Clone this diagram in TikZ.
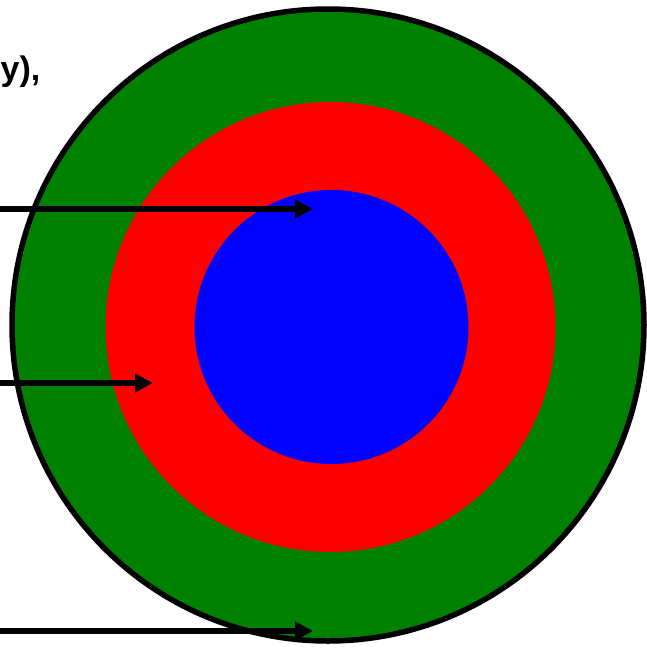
\documentclass[tikz,border=0pt]{standalone}
\usepackage{fontspec}
\setmainfont{Liberation Sans}
\usetikzlibrary{arrows.meta}
\definecolor{ringgreen}{RGB}{0,128,0}
\definecolor{ringred}{RGB}{255,0,0}
\definecolor{ringblue}{RGB}{0,0,255}
\begin{document}
\begin{tikzpicture}[x=1pt,y=-1pt,
  ring/.style={circle, inner sep=0pt, outer sep=0pt},
  pointer/.style={draw=black, line width=5.2pt, -{Triangle[length=18pt,width=18pt]}}]
\useasboundingbox (0,0) rectangle (646,648);
\fill[white] (0,0) rectangle (646,648);
\node (outer) [ring, draw=black, line width=5.5pt, fill=ringgreen, minimum size=632pt] at (328,325) {};
\node (middle) [ring, fill=ringred, minimum size=450pt] at (330.5,327) {};
\node (inner) [ring, fill=ringblue, minimum size=274pt] at (331.5,327) {};
\node (lbl) [anchor=west, inner sep=0pt, font=\bfseries\fontsize{34}{41}\selectfont] at (0.5,72) {y),};
\coordinate (s1) at (0,209); \coordinate (e1) at (313,209);
\coordinate (s2) at (0,383); \coordinate (e2) at (153,383);
\coordinate (s3) at (0,631); \coordinate (e3) at (313,631);
\draw[pointer] (s1) -- (e1);
\draw[pointer] (s2) -- (e2);
\draw[pointer] (s3) -- (e3);
\end{tikzpicture}
\end{document}
